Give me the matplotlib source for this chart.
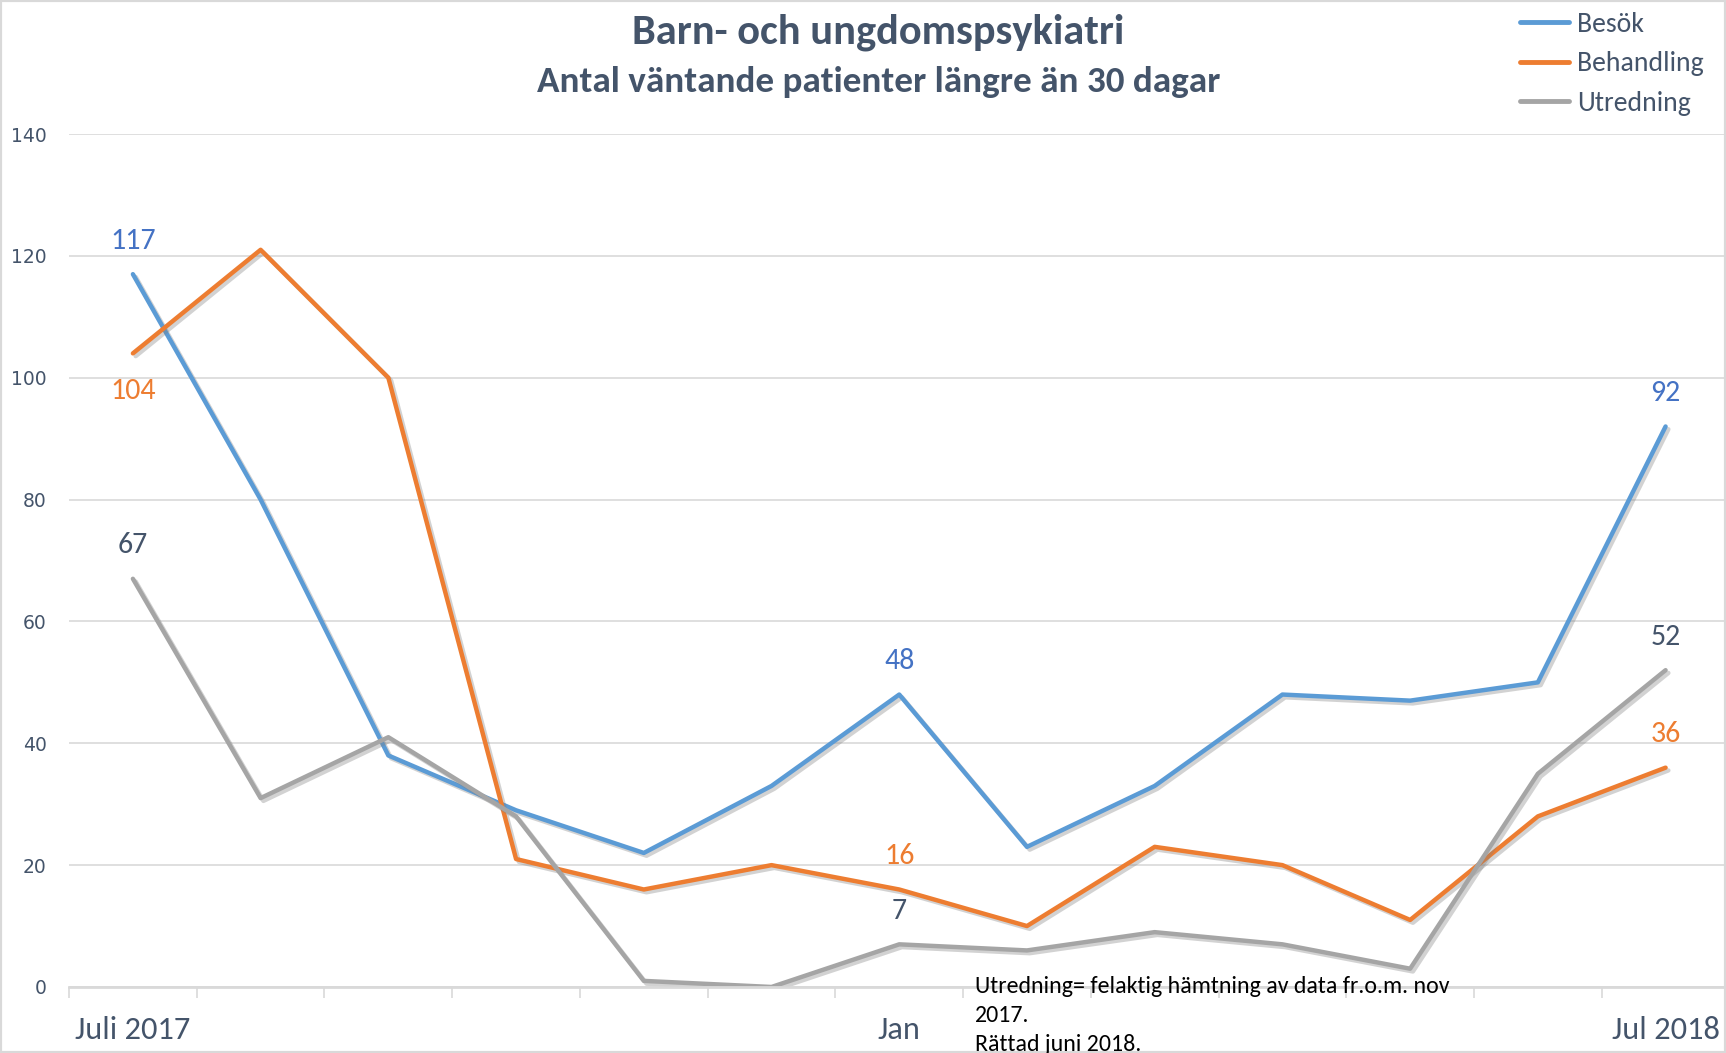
import matplotlib
matplotlib.use("Agg")
import matplotlib.pyplot as plt
import matplotlib.patheffects as pe
from matplotlib import font_manager

# data
months = list(range(13))
tick_pos = [0, 6, 12]
tick_labels = ["Juli 2017", "Jan", "Jul 2018"]
besok = [117, 80, 38, 29, 22, 33, 48, 23, 33, 48, 47, 50, 92]
behandling = [104, 121, 100, 21, 16, 20, 16, 10, 23, 20, 11, 28, 36]
utredning = [67, 31, 41, 28, 1, 0, 7, 6, 9, 7, 3, 35, 52]
label_idx = [0, 6, 12]

title = "Barn- och ungdomspsykiatri"
subtitle = "Antal väntande patienter längre än 30 dagar"
note = "Utredning= felaktig hämtning av data fr.o.m. nov\n2017.\nRättad juni 2018."

installed = set(f.name for f in font_manager.fontManager.ttflist)
main_font = "Open Sans"
for name in ["Carlito", "Open Sans"]:
    if name in installed:
        main_font = name
        break
plt.rcParams["font.family"] = [main_font, "DejaVu Sans"]

text_col = "#44546A"
grid_col = "#D9D9D9"

fig = plt.figure(figsize=(17.26, 10.53), dpi=100)
ax = fig.add_axes([0.040, 0.0627, 0.962, 0.81])

shadow = [pe.SimpleLineShadow(offset=(2, -2), shadow_color="gray", alpha=0.35), pe.Normal()]

series = [
    ("Besök", besok, "#5B9BD5", "#4472C4"),
    ("Behandling", behandling, "#ED7D31", "#ED7D31"),
    ("Utredning", utredning, "#A5A5A5", text_col),
]
for name, vals, col, lcol in series:
    ax.plot(months, vals, color=col, lw=3.2, label=name,
            solid_capstyle="round", path_effects=shadow)
    for i in label_idx:
        dy = 24
        if name == "Behandling" and i == 0:
            dy = -27
        ax.annotate(str(vals[i]), (months[i], vals[i]), xytext=(0, dy),
                    textcoords="offset points", ha="center", va="center",
                    fontsize=21.5, color=lcol)

ax.set_xlim(-0.5, 12.5)
ax.set_ylim(0, 140)
ax.set_yticks(range(0, 141, 20))
ax.yaxis.grid(True, color=grid_col, lw=1.2)
ax.set_axisbelow(True)
ax.tick_params(axis="y", length=0, pad=16, labelsize=13.5, labelcolor=text_col,
               labelfontfamily="DejaVu Sans")

ax.set_xticks(tick_pos)
ax.set_xticklabels(tick_labels)
ax.set_xticks([x - 0.5 for x in months], minor=True)
ax.tick_params(axis="x", which="major", length=0, pad=21, labelsize=23.3, labelcolor=text_col)
ax.tick_params(axis="x", which="minor", length=8, width=1.2, color=grid_col)

for s in ["top", "right", "left"]:
    ax.spines[s].set_visible(False)
ax.spines["bottom"].set_color(grid_col)
ax.spines["bottom"].set_linewidth(2)

fig.text(0.509, 0.969, title, ha="center", va="center", fontsize=30.5,
         fontweight="bold", color=text_col)
fig.text(0.509, 0.922, subtitle, ha="center", va="center", fontsize=26.7,
         fontweight="bold", color=text_col)

fig.text(0.565, 0.073, note, ha="left", va="top", fontsize=17.2,
         color="black", linespacing=1.47)

leg = fig.legend(loc="upper left", bbox_to_anchor=(0.8725, 1.002), frameon=False,
                 fontsize=20, handlelength=1.78, handletextpad=0.28, labelspacing=0.52,
                 borderpad=0, labelcolor=text_col)
for h in leg.get_lines():
    h.set_path_effects([pe.Normal()])
    h.set_linewidth(3.5)

fig.patches.append(plt.Rectangle((0, 0), 1, 1, transform=fig.transFigure,
                                 fill=False, edgecolor=grid_col, lw=3))

fig.savefig("out.png", dpi=100)
